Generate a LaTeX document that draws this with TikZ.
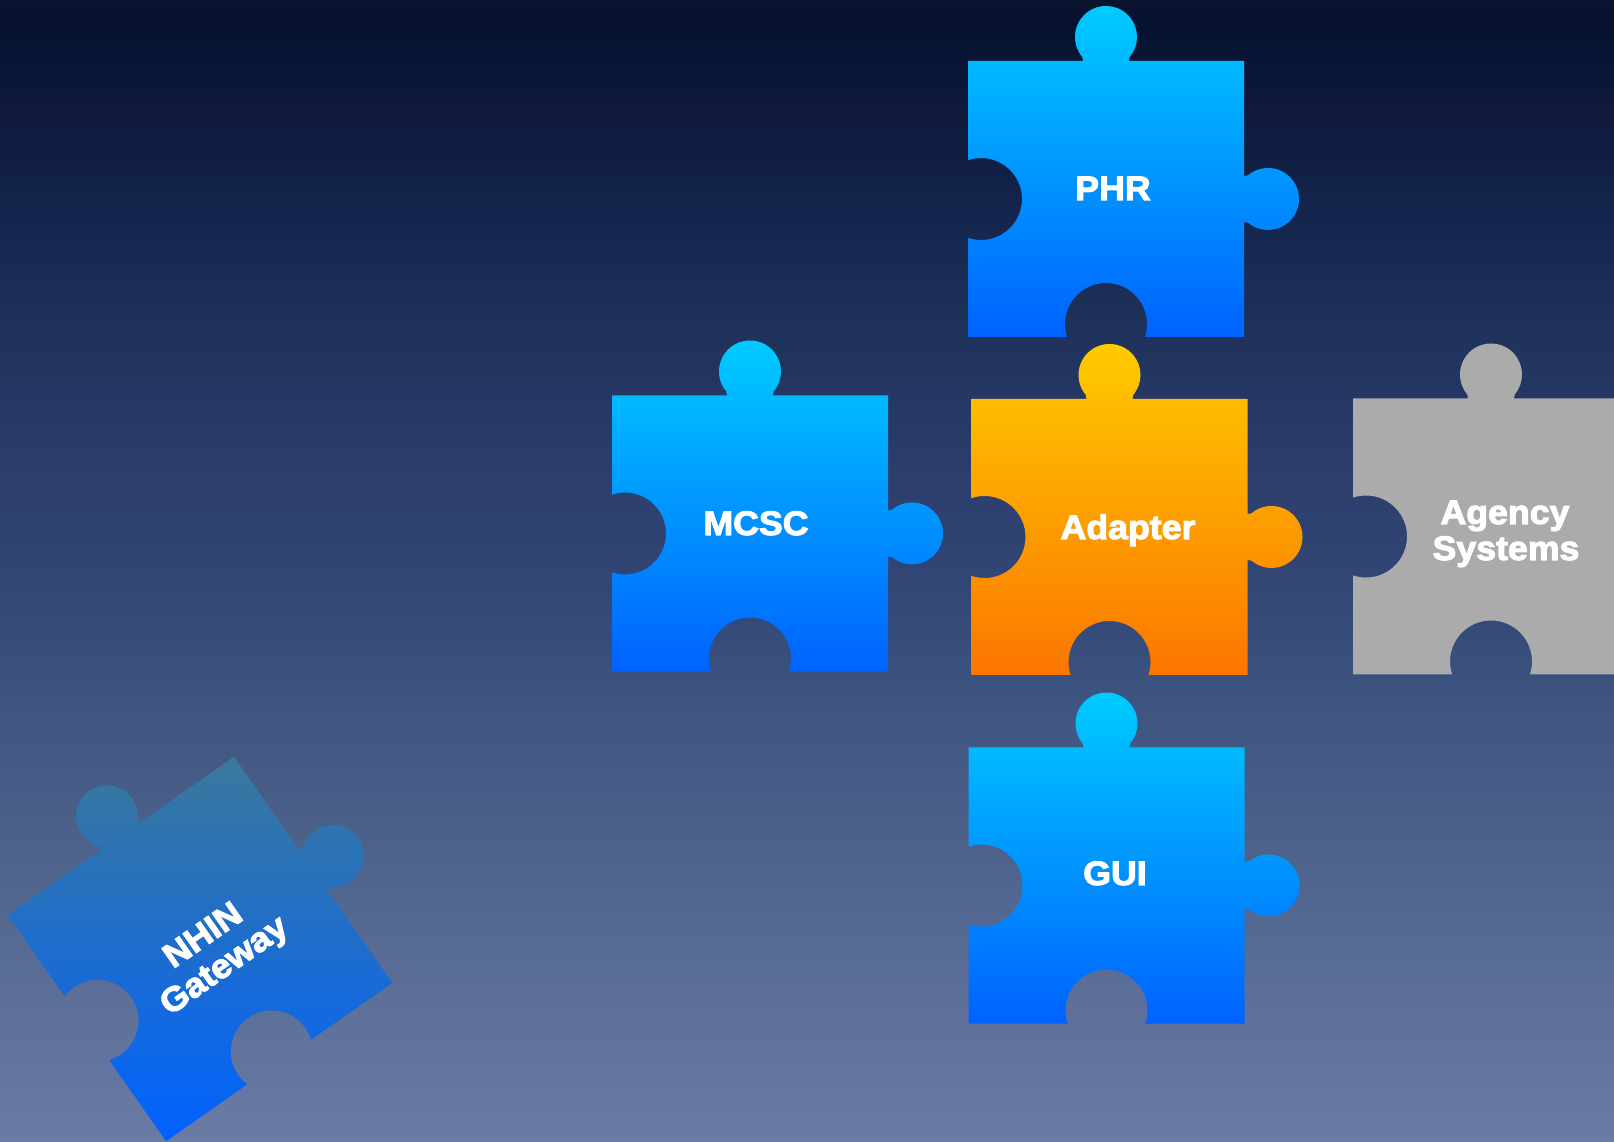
\documentclass[tikz,border=0pt]{standalone}
\usepackage{fontspec}
\newfontfamily\piecefont[FakeBold=3,FakeStretch=1.05]{Liberation Sans Bold}

\definecolor{bgA}{HTML}{0A1330}
\definecolor{bgB}{HTML}{061230}
\definecolor{bgC}{HTML}{0F1A3E}
\definecolor{bgD}{HTML}{14264E}
\definecolor{bgE}{HTML}{1E3159}
\definecolor{bgF}{HTML}{273A67}
\definecolor{bgG}{HTML}{2E4170}
\definecolor{bgH}{HTML}{344A78}
\definecolor{bgI}{HTML}{405683}
\definecolor{bgJ}{HTML}{4A6089}
\definecolor{bgK}{HTML}{546991}
\definecolor{bgL}{HTML}{5E719B}
\definecolor{bgM}{HTML}{6A7CA5}
\definecolor{cyantop}{HTML}{00CCFF}
\definecolor{bluebot}{HTML}{0062FF}
\definecolor{ambertop}{HTML}{FFCC00}
\definecolor{orangebot}{HTML}{FB7600}
\definecolor{greypiece}{HTML}{ABABAB}
\definecolor{tealtop}{HTML}{3A789C}
\definecolor{tealmid}{HTML}{2A8ECE}

\pgfdeclareverticalshading{bgshade}{100bp}{color(0bp)=(bgM); color(25bp)=(bgM);
  color(30.3bp)=(bgL); color(34.7bp)=(bgK); color(39.1bp)=(bgJ); color(43.4bp)=(bgI);
  color(47.8bp)=(bgH); color(52.2bp)=(bgG); color(56.6bp)=(bgF); color(61bp)=(bgE);
  color(65.4bp)=(bgD); color(69.7bp)=(bgC); color(73.9bp)=(bgB); color(75bp)=(bgA);
  color(100bp)=(bgA)}

% one puzzle piece, centred on the origin: knobs top and right, holes left and bottom
\newcommand{\puzzlepath}{(-138,138) -- (-23,138) -- (-23.75,142.07)
  arc[start angle=220,end angle=-40,radius=31] -- (23,138) -- (138,138)
  -- (138,23) -- (142.07,23.75) arc[start angle=130,end angle=-130,radius=31]
  -- (138,-23) -- (138,-138) -- (38.9,-138)
  arc[start angle=-18.5,end angle=198.5,radius=41] -- (-138,-138)
  -- (-138,-38.9) arc[start angle=-108.5,end angle=108.5,radius=41] -- cycle}

\tikzset{
  bluepiece/.style={top color=cyantop,bottom color=bluebot},
  amberpiece/.style={top color=ambertop,bottom color=orangebot},
  greypc/.style={fill=greypiece},
  gatepiece/.style={top color=tealtop,middle color=tealmid,bottom color=bluebot},
  label/.style={text=white,font=\piecefont\fontsize{34}{36}\selectfont,inner sep=0pt,align=center}
}

\begin{document}
\begin{tikzpicture}[x=1pt,y=1pt]
\useasboundingbox (0,0) rectangle (1614,1141);
\clip (0,0) rectangle (1614,1141);
\shade[shading=bgshade] (0,0) rectangle (1614,1141);

%pieces
\shade[bluepiece,shift={(1106,942)}] \puzzlepath;
\shade[bluepiece,shift={(750,607.5)}] \puzzlepath;
\shade[amberpiece,shift={(1109.5,604)}] \puzzlepath;
\shade[bluepiece,shift={(1106.5,255.5)}] \puzzlepath;
\fill[greypc,shift={(1491,604.5)}] \puzzlepath;
\shade[gatepiece,shift={(200,192)},rotate=35] \puzzlepath;

%labels
\node[label,anchor=base] (phr) at (1113,941) {PHR};
\node[label,anchor=base] (mcsc) at (756,606) {MCSC};
\node[label,anchor=base] (adapter) at (1128,602) {Adapter};
\node[label,anchor=base] (gui) at (1115,256) {GUI};
\node[label,anchor=base] (agency) at (1505,617) {Agency};
\node[label,anchor=base] (systems) at (1506,581) {Systems};
\node[label,anchor=base,rotate=35] (nhin) at (209,197) {NHIN};
\node[label,anchor=base,rotate=35] (gateway) at (230,167) {Gateway};

\end{tikzpicture}
\end{document}
